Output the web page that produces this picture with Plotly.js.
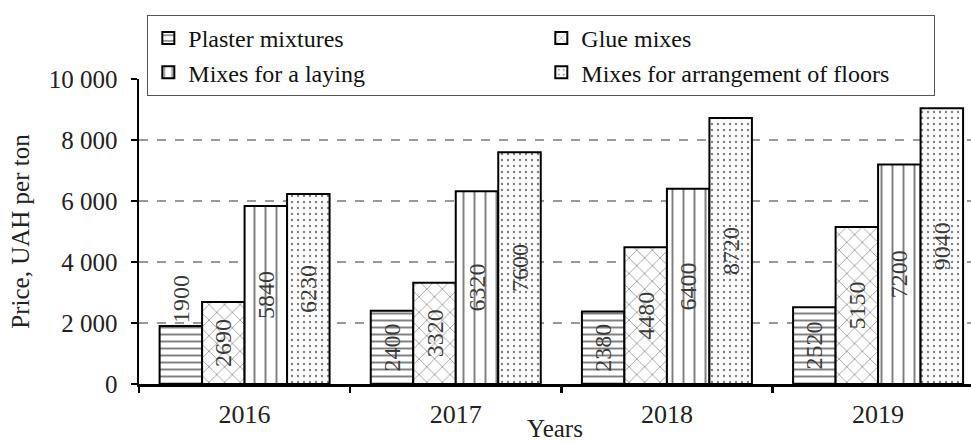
<!DOCTYPE html>
<html>
<head>
<meta charset="utf-8">
<script src="https://cdn.plot.ly/plotly-3.0.1.min.js"></script>
<style>html,body{margin:0;padding:0;background:#fff;}</style>
</head>
<body>
<div id="chart" style="width:971px;height:442px;"></div>
<script>
const years = ['2016', '2017', '2018', '2019'];
const seriesNames = ['Plaster mixtures', 'Glue mixes', 'Mixes for a laying', 'Mixes for arrangement of floors'];
const plaster = [1900, 2400, 2380, 2520];
const glue = [2690, 3320, 4480, 5150];
const laying = [5840, 6320, 6400, 7200];
const floors = [6230, 7600, 8720, 9040];
const yTickVals = [0, 2000, 4000, 6000, 8000, 10000];
const yTickText = ['0', '2 000', '4 000', '6 000', '8 000', '10 000'];

const FONT = 'Liberation Serif';
const patterns = [
  {shape: '-', size: 7, solidity: 0.28},
  {shape: 'x', size: 11, solidity: 0.12},
  {shape: '|', size: 11, solidity: 0.18},
  {shape: '.', size: 6, solidity: 0.12}
];
const allValues = [plaster, glue, laying, floors];

const traces = allValues.map((vals, i) => ({
  type: 'bar',
  name: seriesNames[i],
  x: years,
  y: vals,
  text: vals.map(String),
  textposition: i === 0 ? vals.map(v => v < 2000 ? 'outside' : 'inside') : 'inside',
  insidetextanchor: 'middle',
  textangle: -90,
  constraintext: 'none',
  cliponaxis: false,
  textfont: {family: FONT, size: 24, color: '#3a3a3a'},
  insidetextfont: {family: FONT, size: 24, color: '#3a3a3a'},
  outsidetextfont: {family: FONT, size: 24, color: '#3a3a3a'},
  marker: {
    color: '#ffffff',
    line: {color: '#000', width: 2},
    pattern: Object.assign({fgcolor: '#000', bgcolor: '#fff', fillmode: 'overlay'}, patterns[i])
  },
  hoverinfo: 'skip'
}));

const layout = {
  width: 971,
  height: 442,
  margin: {l: 139, r: 0, t: 79, b: 58},
  paper_bgcolor: '#fff',
  plot_bgcolor: '#fff',
  barmode: 'group',
  bargap: 0.195,
  bargroupgap: 0,
  font: {family: FONT, color: '#222'},
  xaxis: {
    type: 'category',
    range: [-0.5, 3.44],
    showline: true,
    linecolor: '#000',
    linewidth: 2.5,
    ticks: 'outside',
    tickson: 'boundaries',
    ticklen: 6,
    tickwidth: 2.5,
    tickcolor: '#000',
    ticklabelstandoff: 5,
    tickfont: {family: FONT, size: 26, color: '#222'},
    showgrid: false,
    title: {text: 'Years', font: {family: FONT, size: 25, color: '#222'}, standoff: 0}
  },
  yaxis: {
    range: [0, 10000],
    tickvals: yTickVals,
    ticktext: yTickText,
    showline: true,
    linecolor: '#000',
    linewidth: 2.5,
    ticks: 'outside',
    ticklen: 6,
    tickwidth: 2.5,
    tickcolor: '#000',
    ticklabelstandoff: 8,
    tickfont: {family: FONT, size: 25, color: '#222'},
    showgrid: true,
    gridcolor: '#999',
    gridwidth: 1.2,
    griddash: 'dash',
    zeroline: false,
    title: {text: 'Price, UAH per ton', font: {family: FONT, size: 25, color: '#222'}, standoff: 12}
  },
  showlegend: true,
  legend: {
    orientation: 'h',
    x: 0.01,
    xanchor: 'left',
    y: 1.21,
    yanchor: 'top',
    bgcolor: '#fff',
    bordercolor: '#555',
    borderwidth: 1,
    entrywidth: 348,
    traceorder: 'normal',
    font: {family: FONT, size: 24, color: '#111'}
  }
};

Plotly.newPlot('chart', traces, layout, {displayModeBar: false, staticPlot: true});
</script>
</body>
</html>
